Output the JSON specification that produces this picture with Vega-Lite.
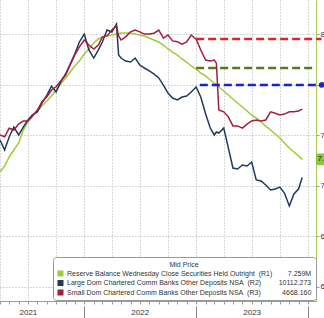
{
  "$schema": "https://vega.github.io/schema/vega-lite/v6.json",
  "width": 316,
  "height": 301,
  "autosize": {"type": "none"},
  "padding": {"left": 0, "top": 0, "right": 8, "bottom": 17},
  "background": "white",
  "config": {"view": {"stroke": null}, "font": "Liberation Sans"},
  "datasets": {
    "series": [
      {"d": "2021-04-01", "r1": 7.134, "r2": 10376, "r3": 4611},
      {"d": "2021-04-16", "r1": 7.193, "r2": 10306, "r3": 4607},
      {"d": "2021-05-01", "r1": 7.283, "r2": 10397, "r3": 4626},
      {"d": "2021-05-16", "r1": 7.352, "r2": 10467, "r3": 4622},
      {"d": "2021-06-01", "r1": 7.421, "r2": 10411, "r3": 4635},
      {"d": "2021-06-16", "r1": 7.55, "r2": 10467, "r3": 4642},
      {"d": "2021-07-01", "r1": 7.629, "r2": 10516, "r3": 4642},
      {"d": "2021-07-16", "r1": 7.689, "r2": 10552, "r3": 4653},
      {"d": "2021-08-01", "r1": 7.738, "r2": 10573, "r3": 4666},
      {"d": "2021-08-16", "r1": 7.787, "r2": 10636, "r3": 4684},
      {"d": "2021-09-01", "r1": 7.837, "r2": 10692, "r3": 4695},
      {"d": "2021-09-16", "r1": 7.887, "r2": 10755, "r3": 4710},
      {"d": "2021-10-01", "r1": 7.946, "r2": 10713, "r3": 4717},
      {"d": "2021-10-16", "r1": 8.005, "r2": 10784, "r3": 4730},
      {"d": "2021-11-01", "r1": 8.065, "r2": 10840, "r3": 4743},
      {"d": "2021-11-16", "r1": 8.124, "r2": 10910, "r3": 4765},
      {"d": "2021-12-01", "r1": 8.184, "r2": 10980, "r3": 4787},
      {"d": "2021-12-16", "r1": 8.233, "r2": 11065, "r3": 4805},
      {"d": "2022-01-01", "r1": 8.302, "r2": 11121, "r3": 4820},
      {"d": "2022-01-16", "r1": 8.352, "r2": 11009, "r3": 4809},
      {"d": "2022-02-01", "r1": 8.411, "r2": 10952, "r3": 4800},
      {"d": "2022-02-16", "r1": 8.451, "r2": 11009, "r3": 4809},
      {"d": "2022-03-01", "r1": 8.471, "r2": 11065, "r3": 4827},
      {"d": "2022-03-16", "r1": 8.481, "r2": 11149, "r3": 4829},
      {"d": "2022-04-01", "r1": 8.49, "r2": 11135, "r3": 4842},
      {"d": "2022-04-16", "r1": 8.5, "r2": 11191, "r3": 4851},
      {"d": "2022-04-23", "r1": 8.5, "r2": 10973, "r3": 4829},
      {"d": "2022-05-01", "r1": 8.51, "r2": 10952, "r3": 4820},
      {"d": "2022-05-16", "r1": 8.51, "r2": 10931, "r3": 4827},
      {"d": "2022-06-01", "r1": 8.51, "r2": 10924, "r3": 4838},
      {"d": "2022-06-16", "r1": 8.5, "r2": 10952, "r3": 4842},
      {"d": "2022-07-01", "r1": 8.49, "r2": 10903, "r3": 4838},
      {"d": "2022-07-16", "r1": 8.481, "r2": 10882, "r3": 4833},
      {"d": "2022-08-01", "r1": 8.461, "r2": 10861, "r3": 4833},
      {"d": "2022-08-16", "r1": 8.441, "r2": 10840, "r3": 4835},
      {"d": "2022-09-01", "r1": 8.421, "r2": 10812, "r3": 4842},
      {"d": "2022-09-16", "r1": 8.391, "r2": 10762, "r3": 4824},
      {"d": "2022-10-01", "r1": 8.352, "r2": 10706, "r3": 4831},
      {"d": "2022-10-16", "r1": 8.322, "r2": 10671, "r3": 4818},
      {"d": "2022-11-01", "r1": 8.292, "r2": 10657, "r3": 4816},
      {"d": "2022-11-16", "r1": 8.253, "r2": 10678, "r3": 4811},
      {"d": "2022-12-01", "r1": 8.223, "r2": 10685, "r3": 4816},
      {"d": "2022-12-16", "r1": 8.184, "r2": 10713, "r3": 4831},
      {"d": "2023-01-01", "r1": 8.154, "r2": 10748, "r3": 4822},
      {"d": "2023-01-16", "r1": 8.114, "r2": 10678, "r3": 4798},
      {"d": "2023-02-01", "r1": 8.085, "r2": 10559, "r3": 4776},
      {"d": "2023-02-16", "r1": 8.045, "r2": 10460, "r3": 4774},
      {"d": "2023-03-01", "r1": 8.015, "r2": 10411, "r3": 4776},
      {"d": "2023-03-08", "r1": 7.995, "r2": 10432, "r3": 4769},
      {"d": "2023-03-16", "r1": 7.976, "r2": 10425, "r3": 4666},
      {"d": "2023-04-01", "r1": 7.936, "r2": 10460, "r3": 4662},
      {"d": "2023-04-16", "r1": 7.896, "r2": 10320, "r3": 4651},
      {"d": "2023-05-01", "r1": 7.857, "r2": 10179, "r3": 4631},
      {"d": "2023-05-16", "r1": 7.817, "r2": 10172, "r3": 4631},
      {"d": "2023-06-01", "r1": 7.778, "r2": 10200, "r3": 4626},
      {"d": "2023-06-16", "r1": 7.738, "r2": 10193, "r3": 4635},
      {"d": "2023-07-01", "r1": 7.698, "r2": 10221, "r3": 4642},
      {"d": "2023-07-16", "r1": 7.669, "r2": 10095, "r3": 4644},
      {"d": "2023-08-01", "r1": 7.629, "r2": 10088, "r3": 4642},
      {"d": "2023-08-16", "r1": 7.589, "r2": 10060, "r3": 4644},
      {"d": "2023-09-01", "r1": 7.55, "r2": 10024, "r3": 4662},
      {"d": "2023-09-16", "r1": 7.51, "r2": 10031, "r3": 4659},
      {"d": "2023-10-01", "r1": 7.471, "r2": 10045, "r3": 4655},
      {"d": "2023-10-16", "r1": 7.421, "r2": 10003, "r3": 4657},
      {"d": "2023-11-01", "r1": 7.372, "r2": 9912, "r3": 4662},
      {"d": "2023-11-16", "r1": 7.332, "r2": 9996, "r3": 4662},
      {"d": "2023-12-01", "r1": 7.292, "r2": 10031, "r3": 4664},
      {"d": "2023-12-13", "r1": 7.259, "r2": 10112, "r3": 4668}
    ]
  },
  "resolve": {"scale": {"y": "independent"}, "axis": {"x": "independent", "y": "independent"}},
  "layer": [
    {
      "data": {"name": "series"},
      "mark": {"type": "line", "strokeWidth": 1.5},
      "encoding": {
        "x": {"field": "d", "type": "temporal",
          "scale": {"domain": [{"year": 2021, "month": 4, "date": 1}, {"year": 2024, "month": 1, "date": 27}]},
          "axis": {"orient": "bottom", "tickCount": {"interval": "month", "step": 1}, "labels": false, "grid": false, "domain": true, "domainColor": "#9a9a9a", "tickColor": "#9a9a9a", "tickSize": 3, "title": null}},
        "y": {"field": "r1", "type": "quantitative",
          "scale": {"domain": [5.857, 8.837], "nice": false, "zero": false},
          "axis": {"orient": "right", "values": [6, 6.5, 7, 7.5, 8, 8.5], "format": ".1f", "grid": true, "gridDash": [1, 2], "gridColor": "#b0b0b0", "domainColor": "#a8c85a", "tickColor": "#999999", "tickSize": 3, "labelFontSize": 8, "labelColor": "#333333", "labelPadding": 1, "title": null}},
        "color": {"datum": "R1",
          "scale": {"domain": ["R1", "R2", "R3"], "range": ["#9dcb3a", "#1f3a5c", "#a31d3e"]},
          "legend": {
            "orient": "none", "legendX": 53, "legendY": 257,
            "title": "Mid Price", "titleFontSize": 7, "titleFontWeight": "normal", "titleColor": "#333333", "titleAnchor": "middle", "titlePadding": 2,
            "labelFontSize": 7, "labelColor": "#333333", "labelLimit": 400, "labelOffset": 3,
            "symbolType": "square", "symbolSize": 36, "symbolStrokeWidth": 0, "rowPadding": 1.5,
            "padding": 4, "fillColor": "white", "strokeColor": "#999999", "cornerRadius": 3,
            "labelExpr": "datum.value == 'R1' ? 'Reserve Balance Wednesday Close Securities Held Outright\u00a0\u00a0(R1)\u00a0\u00a0\u00a0\u00a0\u00a0\u00a0\u00a0\u00a07.259M' : datum.value == 'R2' ? 'Large Dom Chartered Comm Banks Other Deposits NSA\u00a0\u00a0(R2)\u00a0\u00a0\u00a0\u00a0\u00a0\u00a0\u00a0\u00a0\u00a010112.273' : 'Small Dom Chartered Comm Banks Other Deposits NSA\u00a0\u00a0(R3)\u00a0\u00a0\u00a0\u00a0\u00a0\u00a0\u00a0\u00a0\u00a0\u00a0\u00a04668.160'",
            "encode": {"symbols": {"update": {"fill": {"scale": "color", "field": "value"}, "stroke": {"value": "transparent"}}}}
          }}
      }
    },
    {
      "data": {"name": "series"},
      "mark": {"type": "line", "strokeWidth": 1.5},
      "encoding": {
        "x": {"field": "d", "type": "temporal",
          "scale": {"domain": [{"year": 2021, "month": 4, "date": 1}, {"year": 2024, "month": 1, "date": 27}]},
          "axis": {"orient": "bottom", "tickCount": {"interval": "month", "step": 3}, "grid": true, "gridDash": [1, 2], "gridColor": "#b0b0b0", "ticks": false, "labels": false, "domain": false, "title": null}},
        "y": {"field": "r2", "type": "quantitative", "scale": {"domain": [9244, 11360], "nice": false, "zero": false}, "axis": null},
        "color": {"datum": "R2"}
      }
    },
    {
      "data": {"name": "series"},
      "mark": {"type": "line", "strokeWidth": 1.5},
      "encoding": {
        "x": {"field": "d", "type": "temporal",
          "scale": {"domain": [{"year": 2021, "month": 4, "date": 1}, {"year": 2024, "month": 1, "date": 27}]},
          "axis": {"orient": "bottom", "values": [{"year": 2021, "month": 7, "date": 1}, {"year": 2022, "month": 7, "date": 1}, {"year": 2023, "month": 7, "date": 1}], "format": "%Y", "ticks": false, "domain": false, "grid": false, "labelFontSize": 8, "labelColor": "#333333", "labelPadding": 7, "title": null}},
        "y": {"field": "r3", "type": "quantitative", "scale": {"domain": [4245.8, 4908], "nice": false, "zero": false}, "axis": null},
        "color": {"datum": "R3"}
      }
    },
    {
      "data": {"values": [{"d0": "2023-01-01", "d1": "2024-01-16", "v": 8.164}]},
      "mark": {"type": "rule", "color": "#557a1f", "strokeWidth": 2.5, "strokeDash": [8, 4]},
      "encoding": {
        "x": {"field": "d0", "type": "temporal",
          "scale": {"domain": [{"year": 2021, "month": 4, "date": 1}, {"year": 2024, "month": 1, "date": 27}]},
          "axis": {"orient": "bottom", "values": [{"year": 2022, "month": 1, "date": 1}, {"year": 2023, "month": 1, "date": 1}, {"year": 2024, "month": 1, "date": 1}], "tickSize": 12, "offset": 5, "labels": false, "domain": false, "grid": false, "tickColor": "#888888", "title": null}},
        "x2": {"field": "d1"},
        "y": {"field": "v", "type": "quantitative", "scale": {"domain": [5.857, 8.837], "nice": false, "zero": false}, "axis": null}
      }
    },
    {
      "data": {"values": [{"d0": "2023-01-13", "d1": "2024-02-10", "v": 10762}]},
      "mark": {"type": "rule", "color": "#1c22c8", "strokeWidth": 2.5, "strokeDash": [8, 4]},
      "encoding": {
        "x": {"field": "d0", "type": "temporal", "axis": null},
        "x2": {"field": "d1"},
        "y": {"field": "v", "type": "quantitative", "scale": {"domain": [9244, 11360], "nice": false, "zero": false}, "axis": null}
      }
    },
    {
      "data": {"values": [{"d": "2024-02-14", "v": 10762}]},
      "mark": {"type": "point", "filled": true, "color": "#1c22c8", "size": 30, "opacity": 1},
      "encoding": {
        "x": {"field": "d", "type": "temporal", "axis": null},
        "y": {"field": "v", "type": "quantitative", "scale": {"domain": [9244, 11360], "nice": false, "zero": false}, "axis": null}
      }
    },
    {
      "data": {"values": [{"d0": "2023-01-01", "d1": "2024-02-14", "v": 4822}]},
      "mark": {"type": "rule", "color": "#d8262b", "strokeWidth": 2.5, "strokeDash": [8, 4]},
      "encoding": {
        "x": {"field": "d0", "type": "temporal", "axis": null},
        "x2": {"field": "d1"},
        "y": {"field": "v", "type": "quantitative", "scale": {"domain": [4245.8, 4908], "nice": false, "zero": false}, "axis": null}
      }
    },
    {
      "data": {"values": [{"d0": "2024-01-27", "d1": "2024-03-10", "hi": 7.318, "lo": 7.2}]},
      "mark": {"type": "rect", "color": "#8cc63f", "cornerRadius": 2},
      "encoding": {
        "x": {"field": "d0", "type": "temporal", "axis": null},
        "x2": {"field": "d1"},
        "y": {"field": "hi", "type": "quantitative", "scale": {"domain": [5.857, 8.837], "nice": false, "zero": false}, "axis": null},
        "y2": {"field": "lo"}
      }
    },
    {
      "data": {"values": [{"d": "2024-02-01", "v": 7.259, "t": "7.259"}]},
      "mark": {"type": "text", "align": "left", "baseline": "middle", "fontSize": 8, "color": "#1e3008"},
      "encoding": {
        "x": {"field": "d", "type": "temporal", "axis": null},
        "y": {"field": "v", "type": "quantitative", "scale": {"domain": [5.857, 8.837], "nice": false, "zero": false}, "axis": null},
        "text": {"field": "t"}
      }
    }
  ]
}
